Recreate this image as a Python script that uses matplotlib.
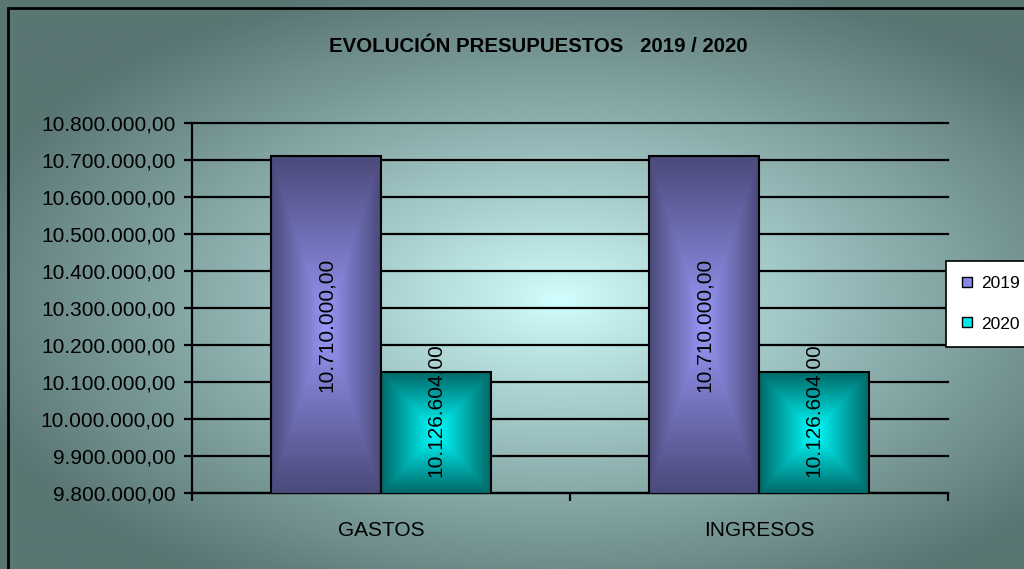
import matplotlib
matplotlib.use("Agg")
import matplotlib.pyplot as plt
import numpy as np
from matplotlib.patches import Rectangle, Patch
from matplotlib.ticker import FixedLocator, FuncFormatter

# datos del gráfico
categorias = ["GASTOS", "INGRESOS"]
series = ["2019", "2020"]
valores_2019 = [10710000.00, 10710000.00]
valores_2020 = [10126604.00, 10126604.00]
y_min, y_max, y_paso = 9800000, 10800000, 100000

titulo = "EVOLUCIÓN PRESUPUESTOS   2019 / 2020"

plt.rcParams["font.family"] = ["Liberation Sans", "DejaVu Sans"]


def fmt_es(v, pos=None):
    s = f"{v:,.2f}"
    return s.replace(",", "X").replace(".", ",").replace("X", ".")


def gradiente_rect(c_centro, c_borde, nx=200, ny=200):
    u = np.linspace(-1, 1, nx)
    v = np.linspace(-1, 1, ny)
    U, V = np.meshgrid(u, v)
    t = np.maximum(np.abs(U), np.abs(V))
    c0 = np.array(matplotlib.colors.to_rgb(c_centro))
    c1 = np.array(matplotlib.colors.to_rgb(c_borde))
    return c0 + (c1 - c0) * t[..., None]


W, H = 1024, 569
fig = plt.figure(figsize=(W / 100, H / 100), dpi=100)

# fondo con degradado desde el centro
bg = fig.add_axes([0, 0, 1, 1], zorder=-1)
xs = np.linspace(0, W, 400)
ys = np.linspace(0, H, 240)
X, Y = np.meshgrid(xs, ys)
cx, cy = 560, 300
t = np.sqrt(((X - cx) / 620) ** 2 + ((Y - cy) / 330) ** 2)
t = np.clip(t, 0, 1) ** 0.9
c0 = np.array(matplotlib.colors.to_rgb("#d2ffff"))
c1 = np.array(matplotlib.colors.to_rgb("#5a7674"))
img = c0 + (c1 - c0) * t[..., None]
bg.imshow(img, extent=[0, W, H, 0], aspect="auto", interpolation="bilinear")
bg.set_xlim(0, W)
bg.set_ylim(H, 0)
bg.axis("off")

ax = fig.add_axes([192 / W, 1 - 493 / H, (948 - 192) / W, (493 - 123) / H])
ax.set_facecolor("none")

x = np.arange(len(categorias))
ancho = 0.29
b19 = ax.bar(x - ancho / 2, valores_2019, ancho, bottom=0, color="none",
             edgecolor="black", linewidth=1.5, zorder=4)
b20 = ax.bar(x + ancho / 2, valores_2020, ancho, bottom=0, color="none",
             edgecolor="black", linewidth=1.5, zorder=4)

ax.set_ylim(y_min, y_max)
ax.set_xlim(-0.5, len(categorias) - 0.5)

# relleno con degradado de cada barra
for barras, cc, cb in [(b19, "#9898f8", "#4a4a7a"), (b20, "#00ffff", "#006868")]:
    for p in barras:
        x0 = p.get_x()
        ax.imshow(gradiente_rect(cc, cb), extent=[x0, x0 + p.get_width(), y_min, p.get_height()],
                  aspect="auto", zorder=3, interpolation="bilinear")
ax.set_ylim(y_min, y_max)
ax.set_xlim(-0.5, len(categorias) - 0.5)

# etiquetas de datos
alto_min = 225000
for barras in [b19, b20]:
    for p in barras:
        v = p.get_height()
        ym = max((y_min + v) / 2, y_min + alto_min)
        ax.text(p.get_x() + p.get_width() / 2, ym, fmt_es(v), rotation=90,
                ha="center", va="center", fontsize=15, color="black", zorder=6)

ax.yaxis.set_major_locator(FixedLocator(np.arange(y_min, y_max + 1, y_paso)))
ax.yaxis.set_major_formatter(FuncFormatter(fmt_es))
ax.grid(axis="y", color="black", linewidth=1.6, zorder=1)
for gl in ax.get_ygridlines():
    gl.set_clip_on(False)
ax.set_axisbelow(True)
ax.tick_params(axis="y", direction="out", length=6, width=1.6, labelsize=15, pad=6)
ax.set_xticks(x)
ax.set_xticklabels(categorias)
ax.set_xticks(np.arange(-0.5, len(categorias)), minor=True)
ax.tick_params(axis="x", which="major", length=0, labelsize=15, pad=20)
ax.tick_params(axis="x", which="minor", direction="out", length=6, width=1.6)
for s in ["top", "right"]:
    ax.spines[s].set_visible(False)
for s in ["left", "bottom"]:
    ax.spines[s].set_linewidth(1.6)

fig.text(538 / W, 1 - 46 / H, titulo, ha="center", va="center",
         fontsize=14.7, fontweight="bold")

# leyenda
handles = [Patch(facecolor="#8888e8", edgecolor="black", label=series[0]),
           Patch(facecolor="#00e8e8", edgecolor="black", label=series[1])]
leg = fig.legend(handles=handles, loc="center left", bbox_to_anchor=(946 / W, 1 - 304 / H),
                 fontsize=12.5, frameon=True, fancybox=False, handlelength=0.6,
                 handleheight=0.5, handletextpad=0.5, labelspacing=1.45,
                 borderpad=0.9, borderaxespad=0)
leg.get_frame().set_edgecolor("black")
leg.get_frame().set_linewidth(1.2)
leg.get_frame().set_facecolor("white")
leg.get_frame().set_alpha(1)

# borde del área del gráfico
fig.patches.append(Rectangle((8 / W, -0.05), 1.05, 1 - 8 / H + 0.05, transform=fig.transFigure,
                             fill=False, edgecolor="black", linewidth=2, zorder=10))

fig.savefig("out.png", dpi=100)
